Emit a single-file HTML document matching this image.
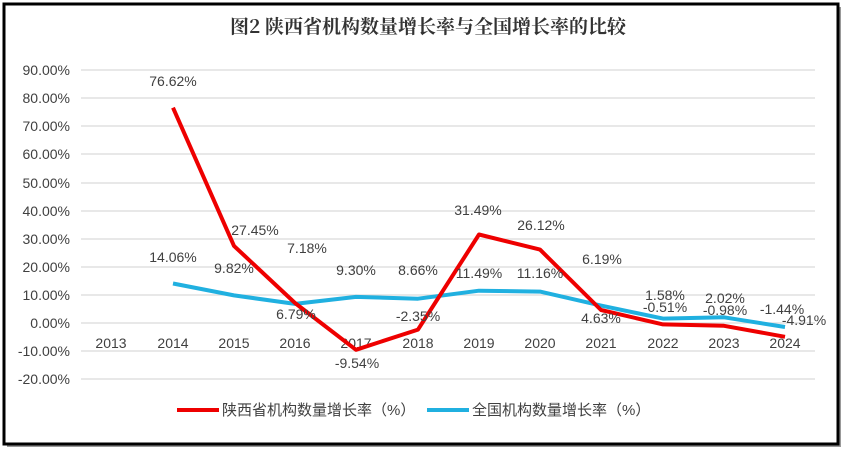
<!DOCTYPE html>
<html><head><meta charset="utf-8"><style>
body{margin:0;background:#fff;width:849px;height:455px;overflow:hidden}
svg text{font-family:"Liberation Sans","Noto Sans CJK SC",sans-serif;fill:#404040;font-size:14px}
</style></head><body>
<svg width="849" height="455" xmlns="http://www.w3.org/2000/svg">
<rect x="7" y="7" width="834" height="440" fill="#999"/>
<rect x="4" y="4" width="834" height="440" fill="#fff" stroke="#000" stroke-width="3"/>
<text x="428" y="33" text-anchor="middle" style="font-size:19px;font-weight:bold;fill:#333;font-family:'Noto Serif CJK SC','Noto Sans CJK SC',serif">图2  陕西省机构数量增长率与全国增长率的比较</text>
<g stroke="#d9d9d9" stroke-width="1.2">
<line x1="81" x2="815" y1="70" y2="70"/><line x1="81" x2="815" y1="98" y2="98"/><line x1="81" x2="815" y1="126" y2="126"/><line x1="81" x2="815" y1="154" y2="154"/><line x1="81" x2="815" y1="183" y2="183"/><line x1="81" x2="815" y1="211" y2="211"/><line x1="81" x2="815" y1="239" y2="239"/><line x1="81" x2="815" y1="267" y2="267"/><line x1="81" x2="815" y1="295" y2="295"/><line x1="81" x2="815" y1="323" y2="323"/><line x1="81" x2="815" y1="351" y2="351"/><line x1="81" x2="815" y1="379" y2="379"/>
</g>
<g text-anchor="end">
<text x="70" y="75">90.00%</text><text x="70" y="103">80.00%</text><text x="70" y="131">70.00%</text><text x="70" y="159">60.00%</text><text x="70" y="188">50.00%</text><text x="70" y="216">40.00%</text><text x="70" y="244">30.00%</text><text x="70" y="272">20.00%</text><text x="70" y="300">10.00%</text><text x="70" y="328">0.00%</text><text x="70" y="356">-10.00%</text><text x="70" y="384">-20.00%</text>
</g>
<g text-anchor="middle">
<text x="111" y="348">2013</text><text x="173" y="348">2014</text><text x="234" y="348">2015</text><text x="295" y="348">2016</text><text x="356" y="348">2017</text><text x="418" y="348">2018</text><text x="479" y="348">2019</text><text x="540" y="348">2020</text><text x="601" y="348">2021</text><text x="663" y="348">2022</text><text x="724" y="348">2023</text><text x="785" y="348">2024</text>
</g>
<polyline fill="none" stroke="#20b0e0" stroke-width="4" stroke-linejoin="round" points="173,283.5 234,295.4 295,303.9 356,296.9 418,298.7 479,290.7 540,291.6 601,305.6 663,318.6 724,317.3 785,327"/>
<polyline fill="none" stroke="#ee0000" stroke-width="4" stroke-linejoin="round" points="173,107.7 234,245.9 295,303 356,349.8 418,329.6 479,234.5 540,249.6 601,310 663,324.4 724,325.8 785,336.8"/>
<g text-anchor="middle">
<text x="173" y="86">76.62%</text><text x="255" y="235">27.45%</text><text x="307" y="253">7.18%</text><text x="296" y="319">6.79%</text><text x="357" y="368">-9.54%</text><text x="418" y="321">-2.35%</text><text x="478" y="215">31.49%</text><text x="541" y="230">26.12%</text><text x="602" y="264">6.19%</text><text x="601" y="323">4.63%</text><text x="665" y="300">1.58%</text><text x="665" y="312">-0.51%</text><text x="725" y="303">2.02%</text><text x="725" y="315">-0.98%</text><text x="782" y="314">-1.44%</text><text x="804" y="325">-4.91%</text>
<text x="173" y="262">14.06%</text><text x="234" y="273">9.82%</text><text x="356" y="275">9.30%</text><text x="418" y="275">8.66%</text><text x="479" y="278">11.49%</text><text x="540" y="278">11.16%</text>
</g>
<line x1="177" x2="219" y1="410" y2="410" stroke="#ee0000" stroke-width="4"/>
<text x="222" y="415" style="font-size:15px">陕西省机构数量增长率（%）</text>
<line x1="427" x2="469" y1="410" y2="410" stroke="#20b0e0" stroke-width="4"/>
<text x="472" y="415" style="font-size:15px">全国机构数量增长率（%）</text>
</svg>
</body></html>
